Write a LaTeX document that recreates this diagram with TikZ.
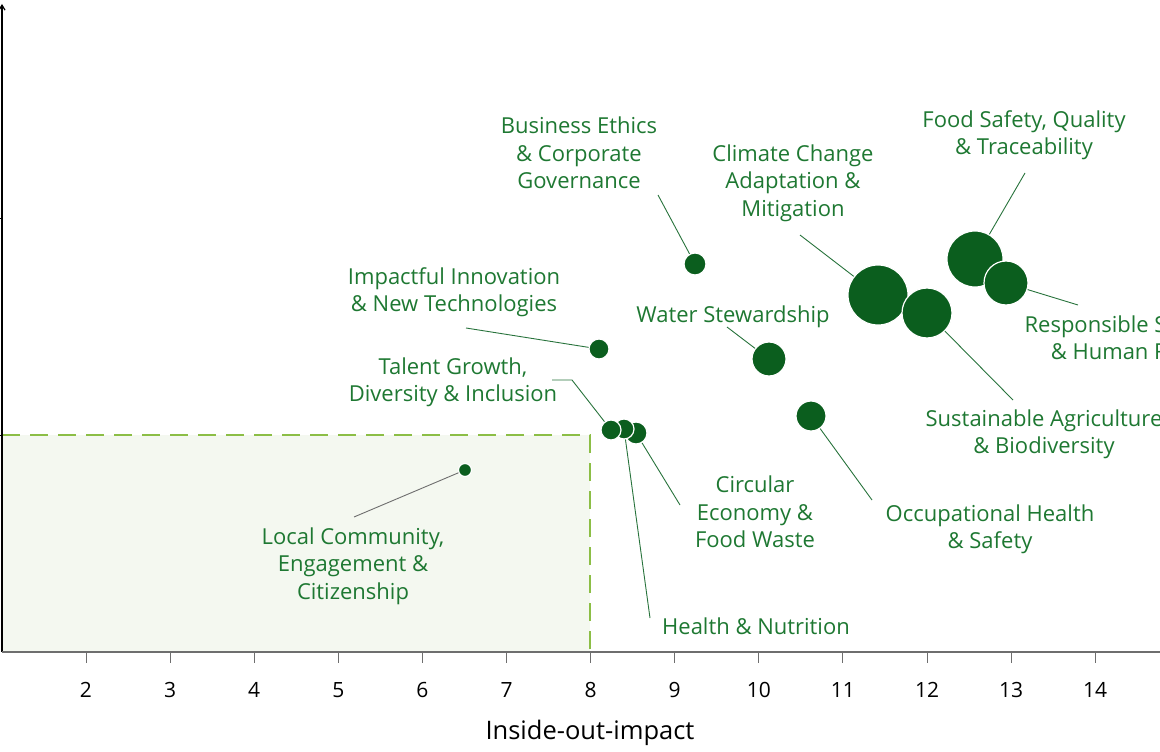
\documentclass[tikz,border=0pt]{standalone}
\usepackage{fontspec}
\setmainfont{Open Sans}
\usetikzlibrary{arrows.meta}
\definecolor{bub}{RGB}{11,94,30}
\definecolor{lbl}{RGB}{30,120,50}
\definecolor{lead}{RGB}{40,115,60}
\definecolor{zonefill}{RGB}{244,248,240}
\definecolor{zoneline}{RGB}{140,190,70}
\definecolor{axisgray}{RGB}{110,110,110}
\tikzset{
  bubble/.style={circle, fill=bub, draw=white, line width=1.2pt, inner sep=0pt, minimum size=#1},
  label/.style={text=lbl, align=center, font=\fontsize{22}{27.3}\selectfont, inner sep=0pt},
  leader/.style={draw=lead, line width=0.9pt},
  ticklbl/.style={font=\fontsize{21}{24}\selectfont, inner sep=0pt},
}
\begin{document}
\begin{tikzpicture}[x=1pt,y=-1pt]
\useasboundingbox (0,0) rectangle (1160,752);
% zone
\fill[zonefill] (2,435) rectangle (590,652);
\draw[zoneline, line width=1.6pt, dash pattern=on 18pt off 10pt] (2,435) -- (590,435) -- (590,652);
% axes
\draw[black, line width=1.2pt, -{Straight Barb[length=5pt,width=6pt]}] (2,652) -- (2,4);
\draw[black, line width=0.8pt] (0,218) -- (2,218) (0,435) -- (2,435);
\draw[axisgray, line width=1.2pt] (2,652) -- (1160,652);
\foreach \v in {2,...,14}{
  \pgfmathsetmacro{\xx}{86+(\v-2)*84.1}
  \draw[axisgray, line width=1pt] (\xx,652) -- (\xx,663);
  \node[ticklbl] (t\v) at (\xx,690) {\v};
}
\node[font=\fontsize{25.5}{30}\selectfont, inner sep=0pt] (xlabel) at (590,733) {Inside-out-impact};
% labels
\node[label] (lBE) at (579,153) {Business Ethics\\\& Corporate\\Governance};
\node[label] (lII) at (454,292) {Impactful Innovation\\\& New Technologies};
\node[label] (lWS) at (733,317) {Water Stewardship};
\node[label] (lTG) at (453,382) {Talent Growth,\\Diversity \& Inclusion};
\node[label] (lCC) at (793,183) {Climate Change\\Adaptation \&\\Mitigation};
\node[label] (lFS) at (1024,135) {Food Safety, Quality\\\& Traceability};
\node[label] (lRS) at (1134,340) {Responsible Sourcing\\\& Human Rights};
\node[label] (lSA) at (1044,434) {Sustainable Agriculture\\\& Biodiversity};
\node[label] (lOH) at (990,529) {Occupational Health\\\& Safety};
\node[label] (lCE) at (755,512) {Circular\\Economy \&\\Food Waste};
\node[label] (lHN) at (756,626) {Health \& Nutrition};
\node[label] (lLC) at (353,566) {Local Community,\\Engagement \&\\Citizenship};
% leader ends
\coordinate (cBE) at (658,195);
\coordinate (cII) at (466,328);
\coordinate (cWS) at (727,327);
\coordinate (cTG1) at (552,380);
\coordinate (cTG2) at (572,380);
\coordinate (cCC) at (800,235);
\coordinate (cFS) at (1025,173);
\coordinate (cRS) at (1078,305);
\coordinate (cSA) at (1013,400);
\coordinate (cOH) at (872,500);
\coordinate (cCE) at (680,505);
\coordinate (cHN) at (650,618);
\coordinate (cLC) at (354,517);
% bubbles (back to front)
\node[bubble=22pt] (bBE) at (695,264) {};
\node[bubble=20pt] (bII) at (599,349) {};
\node[bubble=34pt] (bWS) at (769,359) {};
\node[bubble=30pt] (bOH) at (811,416) {};
\node[bubble=60pt] (bCC) at (878,295) {};
\node[bubble=50pt] (bSA) at (927,313) {};
\node[bubble=56pt] (bFS) at (975,259) {};
\node[bubble=44pt] (bRS) at (1006,283) {};
\node[bubble=22pt] (bCE) at (636,433) {};
\node[bubble=20pt] (bHN) at (624,429) {};
\node[bubble=20pt] (bTG) at (611,430) {};
\node[bubble=13pt] (bLC) at (465,470) {};
% leaders
\draw[leader] (cBE) -- (bBE);
\draw[leader] (cII) -- (bII);
\draw[leader] (cWS) -- (bWS);
\draw[leader] (cTG1) -- (cTG2) -- (bTG);
\draw[leader] (cCC) -- (bCC);
\draw[leader] (cFS) -- (bFS);
\draw[leader] (cRS) -- (bRS);
\draw[leader] (cSA) -- (bSA);
\draw[leader] (cOH) -- (bOH);
\draw[leader] (cCE) -- (bCE);
\draw[leader] (cHN) -- (bHN);
\draw[draw=axisgray, line width=0.9pt] (cLC) -- (bLC);
\end{tikzpicture}
\end{document}
